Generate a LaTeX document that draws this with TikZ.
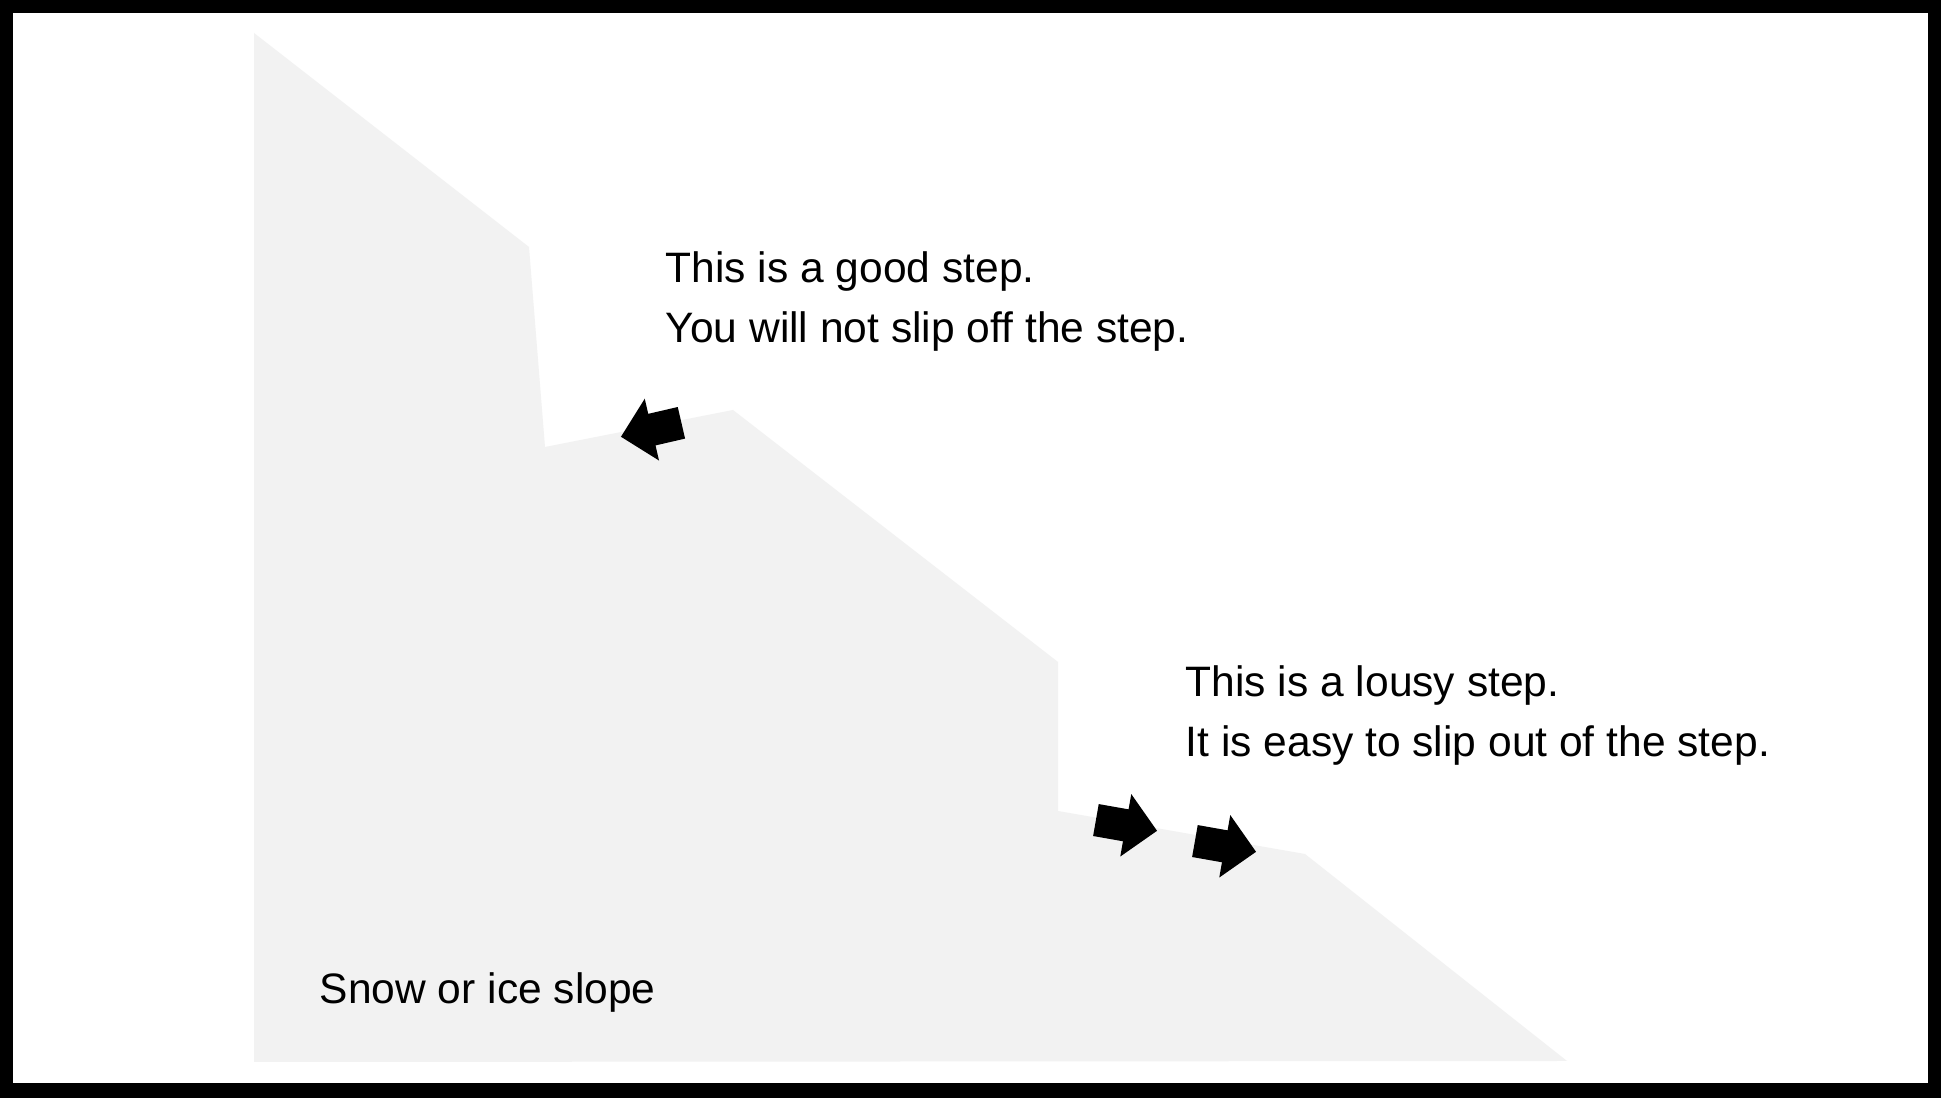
\documentclass[tikz,border=0pt]{standalone}
\usepackage{xcolor}
\usepackage{fontspec}
\setmainfont{Liberation Sans}
\usetikzlibrary{shapes.arrows}

\definecolor{slopegray}{HTML}{F2F2F2}

\begin{document}
\begin{tikzpicture}[x=0.01cm, y=-0.01cm,
        label/.style={anchor=base west, inner sep=0pt, font=\fontsize{12.1}{14}\selectfont},
        steparrow/.style={single arrow, fill=black, draw=none, inner xsep=0pt, inner ysep=0.155cm,
            minimum height=0.62cm, single arrow head extend=0.155cm,
            single arrow tip angle=90, anchor=tip}]
        \useasboundingbox (0,0) rectangle (1941,1098);

        % Frame
        \fill[black] (0,0) rectangle (1941,1098);
        \fill[white] (13,13) rectangle (1928,1083);

        % Slope
        \fill[slopegray] (254,33) -- (529,247) -- (545,447) -- (733,410) -- (1058,662)
            -- (1058,811) -- (1305,854) -- (1567,1061) -- (254,1062) -- cycle;

        % Labels
        \node[label] (good1) at (665,283) {This is a good step.};
        \node[label] (good2) at (665,343) {You will not slip off the step.};
        \node[label] (lousy1) at (1185,697) {This is a lousy step.};
        \node[label] (lousy2) at (1185,757) {It is easy to slip out of the step.};
        \node[label] (slope) at (319,1004) {Snow or ice slope};

        % Arrows
        \node[steparrow, rotate=193] (goodarrow) at (620,437) {};
        \node[steparrow, rotate=-10] (lousyarrowa) at (1158,831) {};
        \node[steparrow, rotate=-10] (lousyarrowb) at (1257,852) {};
    \end{tikzpicture}
\end{document}
